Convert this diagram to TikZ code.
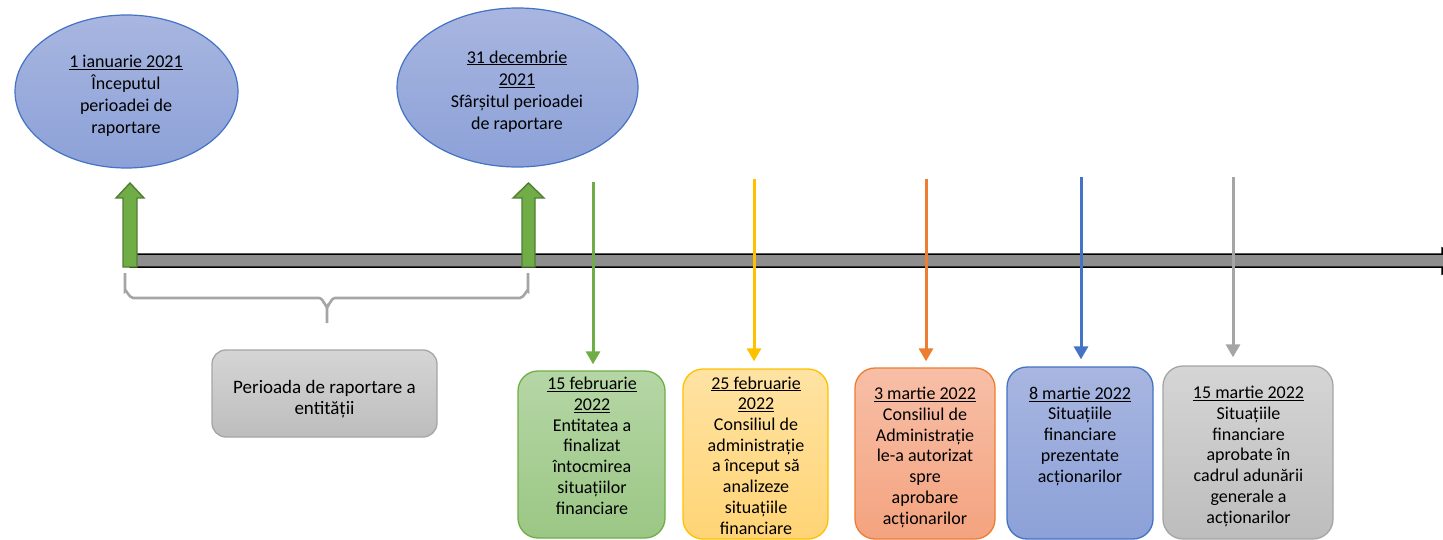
\documentclass[tikz,border=0pt]{standalone}
\usepackage{fontspec}
\setmainfont{Carlito}
\usetikzlibrary{shapes.geometric,arrows.meta}

\definecolor{accBlue}{HTML}{4472C4}
\definecolor{accGreen}{HTML}{70AD47}
\definecolor{accGreenDk}{HTML}{507E32}
\definecolor{accGold}{HTML}{FFC000}
\definecolor{accOrange}{HTML}{ED7D31}
\definecolor{accGray}{HTML}{A5A5A5}
\definecolor{blueTop}{HTML}{A8B6E0}
\definecolor{blueBot}{HTML}{8CA1D8}
\definecolor{greenTop}{HTML}{B5D6A5}
\definecolor{greenBot}{HTML}{9BC785}
\definecolor{goldTop}{HTML}{FFE3A3}
\definecolor{goldBot}{HTML}{FFD475}
\definecolor{orangeTop}{HTML}{F7BFA7}
\definecolor{orangeBot}{HTML}{F4A37F}
\definecolor{grayTop}{HTML}{D5D5D5}
\definecolor{grayBot}{HTML}{BDBDBD}
\definecolor{barGray}{HTML}{8E8E8E}

\newcommand\dateul[1]{\underline{#1}}

\begin{document}
\begin{tikzpicture}[x=1pt,y=-1pt,
  evt/.style={ellipse, draw=accBlue, line width=1.2pt, inner sep=0pt,
    top color=blueTop, bottom color=blueBot},
  card/.style={rectangle, rounded corners=20pt, line width=1.3pt, inner sep=0pt},
  % text blocks are placed by the baseline of their last line
  txt/.style={align=center, inner sep=0pt, anchor=base,
    font=\fontsize{18}{20.7}\selectfont},
  tick/.style={line width=3pt, -{Triangle[width=14pt,length=13pt]}, shorten >=6pt},
  uparrow/.style={fill=accGreen, draw=accGreenDk, line width=1.4pt},
  brace/.style={draw=accGray, line width=2.6pt}
]
\useasboundingbox (0,0) rectangle (1443,540);
\clip (0,0) rectangle (1443,540);

% reporting period start / end
\node[evt, minimum width=223pt, minimum height=153pt] (e1) at (126.5,91.5) {};
\node[evt, minimum width=241pt, minimum height=159pt] (e2) at (517.5,87.5) {};
\node[txt, font=\fontsize{18}{22}\selectfont] (e1t) at (126,134)
  {\dateul{1 ianuarie 2021}\\Începutul\\perioadei de\\raportare};
\node[txt, font=\fontsize{18}{22.3}\selectfont] (e2t) at (517,130)
  {\dateul{31 decembrie}\\\dateul{2021}\\Sfârșitul perioadei\\de raportare};

% time axis
\filldraw[fill=barGray, draw=black, line width=1.5pt]
  (130,254) -- (1442,254) -- (1442,248) -- (1475,261) -- (1442,274)
  -- (1442,267) -- (130,267) -- cycle;

% green block arrows marking the period bounds
\filldraw[uparrow] (123,267) -- (123,198) -- (116,198) -- (130,183)
  -- (144,198) -- (137,198) -- (137,267) -- cycle;
\filldraw[uparrow] (522,267) -- (522,198) -- (513,198) -- (528.5,183)
  -- (544,198) -- (535,198) -- (535,267) -- cycle;

% brace under the reporting period
\draw[brace] (125,273) -- (125,291) to[out=90,in=180] (133,298) -- (319,298)
  to[out=0,in=-90] (327,306) -- (327,323);
\draw[brace] (528,273) -- (528,291) to[out=90,in=0] (520,298) -- (335,298)
  to[out=180,in=-90] (327,306);

\node[card, rounded corners=14pt, draw=accGray, top color=grayTop,
  bottom color=grayBot, minimum width=225pt, minimum height=87pt] (pl) at (324.5,393.5) {};
\node[txt, font=\fontsize{19}{21}\selectfont] (plt) at (324.5,414)
  {Perioada de raportare a\\entității};

% event cards
\node[card, draw=accGreen, top color=greenTop, bottom color=greenBot,
  minimum width=147pt, minimum height=167pt] (gb) at (591.5,454.5) {};
\node[card, draw=accGold, top color=goldTop, bottom color=goldBot,
  minimum width=145pt, minimum height=170pt] (yb) at (755.5,454) {};
\node[card, draw=accOrange, top color=orangeTop, bottom color=orangeBot,
  minimum width=140pt, minimum height=171pt] (ob) at (925,453.5) {};
\node[card, draw=accBlue, top color=blueTop, bottom color=blueBot,
  minimum width=146pt, minimum height=172pt] (bb) at (1080,453) {};
\node[card, draw=accGray, top color=grayTop, bottom color=grayBot,
  minimum width=170pt, minimum height=173pt] (rb) at (1248,452.5) {};

\node[txt] (gbt) at (592,514)
  {\dateul{15 februarie}\\\dateul{2022}\\Entitatea a\\finalizat\\întocmirea\\situațiilor\\financiare};
\node[txt] (ybt) at (756,534)
  {\dateul{25 februarie}\\\dateul{2022}\\Consiliul de\\administrație\\a început să\\analizeze\\situațiile\\financiare};
\node[txt] (obt) at (925,524)
  {\dateul{3 martie 2022}\\Consiliul de\\Administrație\\le-a autorizat\\spre\\aprobare\\acționarilor};
\node[txt] (bbt) at (1080,482)
  {\dateul{8 martie 2022}\\Situațiile\\financiare\\prezentate\\acționarilor};
\node[txt] (rbt) at (1248.5,523)
  {\dateul{15 martie 2022}\\Situațiile\\financiare\\aprobate în\\cadrul adunării\\generale a\\acționarilor};

% event pointers crossing the axis
\coordinate (ga) at (593,182);
\coordinate (ya) at (754,179);
\coordinate (oa) at (926,179);
\coordinate (ba) at (1081,177);
\coordinate (ra) at (1233,177);
\draw[tick, accGreen] (ga) -- (ga |- gb.north);
\draw[tick, accGold, shorten >=7pt] (ya) -- (ya |- yb.north);
\draw[tick, accOrange] (oa) -- (oa |- ob.north);
\draw[tick, accBlue, shorten >=7pt] (ba) -- (ba |- bb.north);
\draw[tick, accGray, shorten >=8pt] (ra) -- (ra |- rb.north);
\end{tikzpicture}
\end{document}
